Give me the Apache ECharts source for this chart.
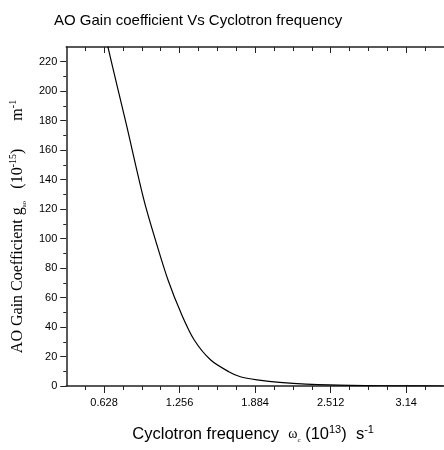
<!DOCTYPE html>
<html>
<head>
<meta charset="utf-8">
<script src="https://cdn.jsdelivr.net/npm/echarts@6/dist/echarts.min.js"></script>
<style>
  html, body { margin: 0; padding: 0; background: #fff; }
  #main { width: 444px; height: 450px; }
</style>
</head>
<body>
<div id="main"></div>
<script>
// curve: frequency (10^13 s^-1) vs gain (10^-15 m^-1)
var freq = [0.640, 0.663, 0.813, 0.960, 1.064, 1.160, 1.269, 1.378, 1.515, 1.665, 1.761, 1.900, 2.088, 2.498, 3.044, 3.45];
var gain = [240, 229.2, 177.6, 126.1, 96.7, 71.9, 49.3, 31.2, 17.6, 9.7, 6.3, 4.2, 2.5, 0.7, 0.1, 0.0];

// ticks
var xMajorTicks = [0.628, 1.256, 1.884, 2.512, 3.14];
var xMinorTicks = [0.471, 0.785, 0.942, 1.099, 1.413, 1.570, 1.727, 2.041, 2.198, 2.355, 2.669, 2.826, 2.983, 3.297];
var yMajorTicks = [0, 20, 40, 60, 80, 100, 120, 140, 160, 180, 200, 220];
var yMinorTicks = [10, 30, 50, 70, 90, 110, 130, 150, 170, 190, 210];

var xMin = 0.314, xMax = 3.454;
var yMin = 0, yMax = 230;

var axisColor = '#222';
var points = freq.map(function (f, i) { return [f, gain[i]]; });

function tickAxis(pos, values, len, inside, showLine) {
  return {
    type: 'value', min: xMin, max: xMax, position: pos,
    splitLine: { show: false },
    axisLine: { show: showLine, onZero: false, lineStyle: { color: axisColor, width: 1.5 } },
    axisTick: { show: true, inside: inside, length: len, customValues: values, lineStyle: { color: axisColor, width: 1 } },
    axisLabel: { show: false }
  };
}

var chart = echarts.init(document.getElementById('main'));

var option = {
  animation: false,
  title: {
    text: 'AO Gain coefficient Vs Cyclotron frequency',
    left: 54,
    top: 13,
    padding: 0,
    textStyle: { fontFamily: 'Liberation Sans', fontSize: 15, fontWeight: 'normal', color: '#000' }
  },
  grid: { left: 64, top: 47, width: 384, height: 339 },
  xAxis: [
    {
      type: 'value',
      min: xMin, max: xMax,
      position: 'bottom',
      splitLine: { show: false },
      axisLine: { onZero: false, lineStyle: { color: axisColor, width: 1.5 } },
      axisTick: { length: 7, customValues: xMajorTicks, lineStyle: { color: axisColor, width: 1 } },
      axisLabel: {
        margin: 11, customValues: xMajorTicks,
        fontFamily: 'Liberation Sans', fontSize: 11, color: '#000',
        formatter: function (v) { return String(v); }
      },
      name: '{a|Cyclotron frequency  }{w|\u03c9}{sub|c}{a| (10}{sup|13}{a|)  s}{sup|-1}',
      nameLocation: 'middle',
      nameGap: 38,
      nameTextStyle: {
        padding: [0, 4, 0, 0],
        rich: {
          a: { fontFamily: 'Liberation Sans', fontSize: 16.5, color: '#000', lineHeight: 20 },
          w: { fontFamily: 'Liberation Serif', fontSize: 14, color: '#000', lineHeight: 20 },
          sub: { fontFamily: 'Liberation Serif', fontSize: 7, color: '#000', verticalAlign: 'bottom', lineHeight: 12 },
          sup: { fontFamily: 'Liberation Sans', fontSize: 11, color: '#000', verticalAlign: 'top', lineHeight: 11 }
        }
      }
    },
    tickAxis('top', xMajorTicks, 6, true, true),
    tickAxis('bottom', xMinorTicks, 4, false, false),
    tickAxis('top', xMinorTicks, 4, true, false)
  ],
  yAxis: [
    {
      type: 'value',
      min: yMin, max: yMax,
      splitLine: { show: false },
      axisLine: { show: true, onZero: false, lineStyle: { color: axisColor, width: 1.5 } },
      axisTick: { show: true, length: 6, customValues: yMajorTicks, lineStyle: { color: axisColor, width: 1 } },
      axisLabel: {
        margin: 9, customValues: yMajorTicks,
        fontFamily: 'Liberation Sans', fontSize: 11, color: '#000'
      },
      name: '{a|AO Gain Coefficient g}{sub|ao}{a|   (10}{sup|-15}{a|)       m}{sup|-1}',
      nameLocation: 'middle',
      nameRotate: 90,
      nameGap: 31,
      nameTextStyle: {
        padding: [0, 20, 0, 0],
        rich: {
          a: { fontFamily: 'Liberation Serif', fontSize: 16, color: '#000', lineHeight: 20 },
          sub: { fontFamily: 'Liberation Serif', fontSize: 7, color: '#000', verticalAlign: 'bottom', lineHeight: 12 },
          sup: { fontFamily: 'Liberation Serif', fontSize: 10, color: '#000', verticalAlign: 'top', lineHeight: 10 }
        }
      }
    },
    {
      type: 'value',
      min: yMin, max: yMax, position: 'left',
      splitLine: { show: false },
      axisLine: { show: false },
      axisTick: { show: true, length: 3, customValues: yMinorTicks, lineStyle: { color: axisColor, width: 1 } },
      axisLabel: { show: false }
    }
  ],
  series: [
    {
      type: 'line',
      data: points,
      smooth: 0.3,
      showSymbol: false,
      clip: true,
      lineStyle: { color: '#000', width: 1.2 }
    }
  ]
};

chart.setOption(option);
</script>
</body>
</html>
